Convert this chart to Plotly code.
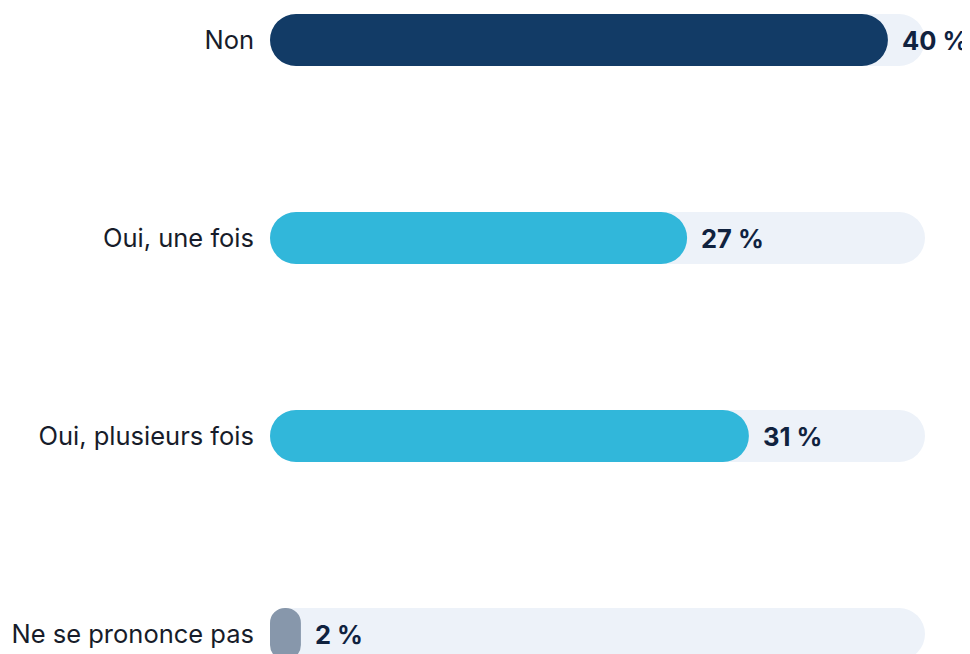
import plotly.graph_objects as go

categories = ["Non", "Oui, une fois", "Oui, plusieurs fois", "Ne se prononce pas"]
values = [40, 27, 31, 2]
value_labels = ["40 %", "27 %", "31 %", "2 %"]
track_max = 42.4

bar_colors = ["#123B66", "#31B7DA", "#31B7DA", "#8797AB"]
track_color = "#EDF2F9"
bar_width = 0.263

fig = go.Figure()

# light track behind every bar
fig.add_trace(go.Bar(
    y=categories, x=[track_max] * len(categories), base=[0] * len(categories),
    orientation="h", width=bar_width,
    marker=dict(color=track_color, cornerradius="50%", line=dict(width=0)),
    hoverinfo="skip",
))

fig.add_trace(go.Bar(
    y=categories, x=values, base=[0] * len(categories),
    orientation="h", width=bar_width,
    marker=dict(color=bar_colors, cornerradius="50%", line=dict(width=0)),
    hoverinfo="skip",
))

for cat, v, lab in zip(categories, values, value_labels):
    fig.add_annotation(
        x=v, y=cat, text=f"<b>{lab}</b>",
        xanchor="left", yanchor="middle", xshift=12, showarrow=False,
        font=dict(family="Inter", size=25.5, color="#10223F"),
    )

fig.update_layout(
    width=962, height=646,
    margin=dict(l=262, r=45, t=0, b=0),
    barmode="overlay",
    showlegend=False,
    paper_bgcolor="white",
    plot_bgcolor="white",
    font=dict(family="Inter", size=25.5, color="#171C2A"),
    xaxis=dict(range=[0, track_max], visible=False, fixedrange=True),
    yaxis=dict(
        categoryorder="array", categoryarray=categories,
        range=[3.101, -0.1616],
        showgrid=False, zeroline=False, showline=False,
        ticks="", ticklabelstandoff=15,
        tickfont=dict(family="Inter", size=25.5, color="#171C2A"),
    ),
)

fig.write_html("out.html")
